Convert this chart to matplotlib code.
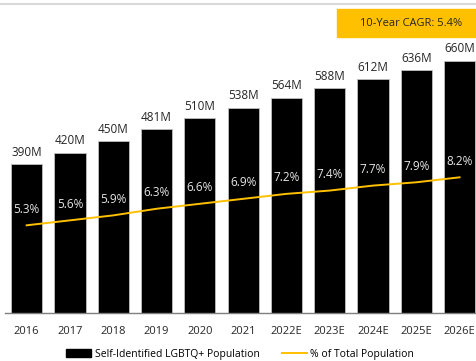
import matplotlib.pyplot as plt
from matplotlib.lines import Line2D
from matplotlib.patches import Rectangle

plt.rcParams['font.family'] = ['Open Sans', 'DejaVu Sans']

years = ['2016', '2017', '2018', '2019', '2020', '2021',
         '2022E', '2023E', '2024E', '2025E', '2026E']
population_m = [390, 420, 450, 481, 510, 538, 564, 588, 612, 636, 660]
share_pct = [5.3, 5.6, 5.9, 6.3, 6.6, 6.9, 7.2, 7.4, 7.7, 7.9, 8.2]
cagr_text = '10-Year CAGR: 5.4%'

W, H = 476, 361
fig = plt.figure(figsize=(W / 100, H / 100), dpi=100)

# axes placed in pixel terms: baseline at y=313, top at y=40
left, right, top, bottom = 5, 476, 40, 313
ax = fig.add_axes([left / W, (H - bottom) / H, (right - left) / W, (bottom - top) / H])
x = list(range(len(years)))

ax.bar(x, population_m, width=0.72, color='black', edgecolor='#BFBFBF', linewidth=0.6,
       label='Self-Identified LGBTQ+ Population', zorder=2)
for xi, v in zip(x, population_m):
    ax.annotate(f'{v}M', (xi, v), xytext=(0, 4), textcoords='offset points',
                ha='center', va='bottom', fontsize=8.5, color='#262626')

ax.set_xlim(-0.5, 10.38)
ax.set_ylim(0, 715)
ax.set_yticks([])
for s in ['top', 'right', 'left']:
    ax.spines[s].set_visible(False)
ax.spines['bottom'].set_color('#7F7F7F')
ax.spines['bottom'].set_linewidth(1.0)
ax.set_xticks(x)
ax.set_xticklabels(years, fontsize=8, color='#262626')
ax.tick_params(axis='x', length=0, pad=9)

# share of total population on a second scale
ax2 = ax.twinx()
ax2.plot(x, share_pct, color='#FFC000', linewidth=1.4, zorder=3,
         label='% of Total Population')
for xi, p in zip(x, share_pct):
    ax2.annotate(f'{p}%', (xi, p), xytext=(0, 7), textcoords='offset points',
                 ha='center', va='bottom', fontsize=8.5, color='#E6E6E6')
ax2.set_ylim(0, 16.5)
ax2.set_yticks([])
for s in ax2.spines.values():
    s.set_visible(False)

# legend along the bottom
handles = [Rectangle((0, 0), 1, 1, color='black'),
           Line2D([0], [0], color='#FFC000', linewidth=1.4)]
fig.legend(handles, ['Self-Identified LGBTQ+ Population', '% of Total Population'],
           loc='center', bbox_to_anchor=(0.505, (H - 354) / H), ncol=2, frameon=False,
           fontsize=7.5, handlelength=2.4, handletextpad=0.3, columnspacing=2.2)

# CAGR callout box
fig.patches.append(Rectangle((337 / W, (H - 37) / H), (476 - 337) / W, 28 / H,
                             transform=fig.transFigure, color='#FFC000', zorder=5))
fig.text(411 / W, (H - 23) / H, cagr_text, ha='center', va='center',
         fontsize=8, color='#262626', zorder=6)

# thin rule along the top
fig.add_artist(Line2D([0, 1], [(H - 4) / H] * 2, color='#D9D9D9', linewidth=1.5))

fig.savefig('out.png', dpi=100)
